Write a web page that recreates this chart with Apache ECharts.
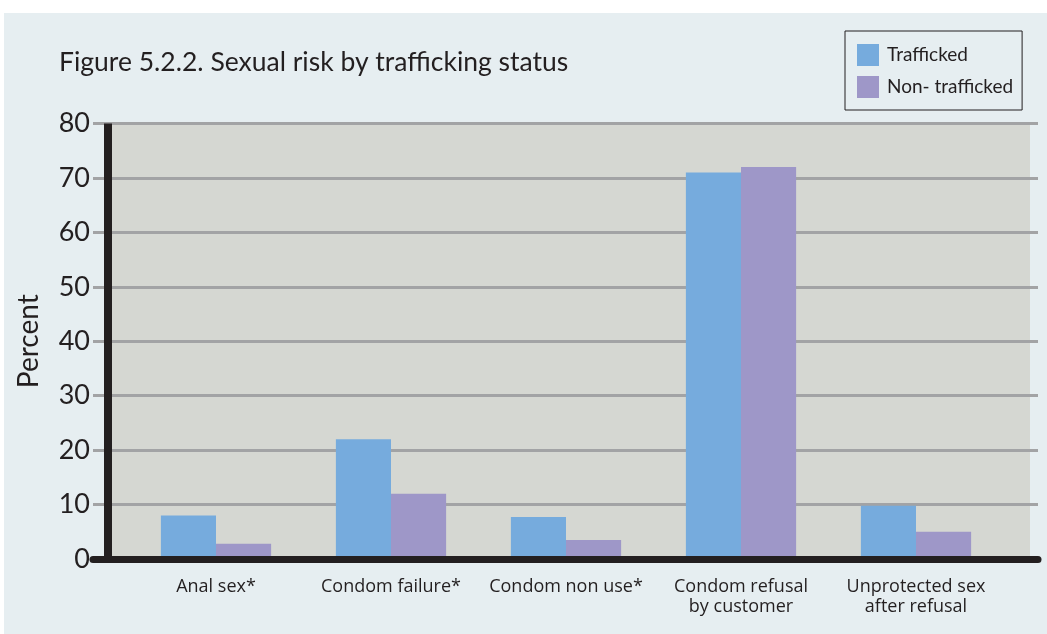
<!DOCTYPE html>
<html>
<head>
<meta charset="utf-8">
<script src="https://cdn.jsdelivr.net/npm/echarts@6/dist/echarts.min.js"></script>
<style>
  html, body { margin: 0; padding: 0; background: #ffffff; }
  #chart { width: 1047px; height: 634px; }
</style>
</head>
<body>
<div id="chart"></div>
<script>
// Sexual risk indicators, percent of respondents by trafficking status
const categories = [
  'Anal sex*',
  'Condom failure*',
  'Condom non use*',
  'Condom refusal\nby customer',
  'Unprotected sex\nafter refusal'
];
const trafficked = [8, 22, 7.7, 71, 9.8];
const nonTrafficked = [2.8, 12, 3.5, 72, 5];
const yTicks = { min: 0, max: 80, step: 10 };
const seriesNames = ['Trafficked', 'Non- trafficked'];

const FONT = 'Lato, "Open Sans", sans-serif';
const LABEL_FONT = '"Open Sans", Lato, sans-serif';
const INK = '#231f20';
const BLUE = '#76abdd';
const PURPLE = '#9e97c8';

const chart = echarts.init(document.getElementById('chart'));

const plotTop = 123.5;
const plotBottom = 75;

chart.setOption({
  backgroundColor: '#ffffff',
  animation: false,
  graphic: [{
    type: 'rect',
    z: -10,
    silent: true,
    shape: { x: 4, y: 13, width: 1043, height: 621 },
    style: { fill: '#e6eef1' }
  }],
  title: {
    text: 'Figure 5.2.2. Sexual risk by trafficking status',
    left: 59,
    top: 49,
    padding: 0,
    textStyle: { fontFamily: FONT, fontSize: 26.5, fontWeight: 'normal', color: INK }
  },
  legend: {
    orient: 'vertical',
    left: 845,
    top: 31,
    padding: [13, 9, 12, 12],
    itemWidth: 22,
    itemHeight: 22,
    itemGap: 10,
    icon: 'rect',
    borderColor: INK,
    borderWidth: 1,
    data: seriesNames,
    textStyle: { fontFamily: FONT, fontSize: 19, color: INK, padding: [0, 0, 0, 3] }
  },
  grid: [
    // tick labels, gridlines and the heavy baseline
    { left: 93, right: 9, top: plotTop, bottom: plotBottom },
    // shaded plot panel with the vertical axis rule
    { left: 108, right: 17, top: plotTop, bottom: plotBottom, show: true,
      backgroundColor: '#d5d7d2', borderWidth: 0, z: -1 },
    // bars
    { left: 128.5, right: 43.5, top: plotTop, bottom: plotBottom }
  ],
  xAxis: [
    { gridIndex: 0, type: 'category', data: categories, z: 5,
      axisLine: { show: true, lineStyle: { color: INK, width: 7 } },
      axisTick: { show: false }, axisLabel: { show: false }, splitLine: { show: false } },
    { gridIndex: 1, type: 'category', data: categories, show: false },
    { gridIndex: 2, type: 'category', data: categories,
      axisLine: { show: false }, axisTick: { show: false },
      axisLabel: { interval: 0, fontFamily: LABEL_FONT, fontSize: 18, lineHeight: 20,
        color: INK, margin: 18 } }
  ],
  yAxis: [
    { gridIndex: 0, type: 'value', min: yTicks.min, max: yTicks.max, interval: yTicks.step,
      name: 'Percent', nameLocation: 'middle', nameGap: 50, nameRotate: 90,
      nameTextStyle: { fontFamily: FONT, fontSize: 28, color: INK },
      axisLine: { show: false }, axisTick: { show: false },
      axisLabel: { fontFamily: FONT, fontSize: 27, color: INK, margin: 3 },
      splitLine: { show: true, lineStyle: { color: '#a2a3a5', width: 3 } } },
    { gridIndex: 1, type: 'value', min: yTicks.min, max: yTicks.max, z: 4,
      axisLine: { show: true, lineStyle: { color: INK, width: 8, cap: 'butt' } },
      axisTick: { show: false }, axisLabel: { show: false }, splitLine: { show: false } },
    { gridIndex: 2, type: 'value', min: yTicks.min, max: yTicks.max, show: false,
      splitLine: { show: false } }
  ],
  series: [
    { name: seriesNames[0], type: 'bar', xAxisIndex: 2, yAxisIndex: 2, data: trafficked,
      barGap: '0%', barCategoryGap: '37%', itemStyle: { color: BLUE } },
    { name: seriesNames[1], type: 'bar', xAxisIndex: 2, yAxisIndex: 2, data: nonTrafficked,
      barGap: '0%', barCategoryGap: '37%', itemStyle: { color: PURPLE } }
  ]
});
</script>
</body>
</html>
